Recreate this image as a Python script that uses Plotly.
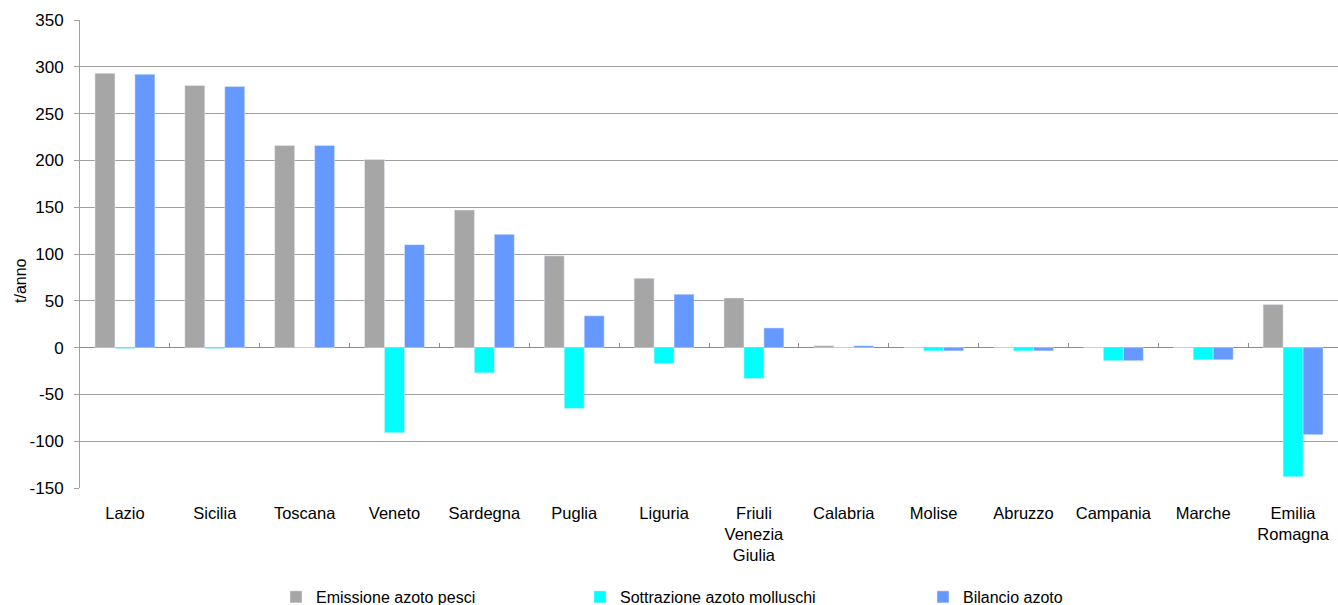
import plotly.graph_objects as go

categories = ["Lazio", "Sicilia", "Toscana", "Veneto", "Sardegna", "Puglia", "Liguria",
              "Friuli<br>Venezia<br>Giulia", "Calabria", "Molise", "Abruzzo", "Campania",
              "Marche", "Emilia<br>Romagna"]
emissione = [293, 280, 216, 201, 147, 98, 74, 53, 2, 0, 0, 0, 0, 46]
sottrazione = [-1, -1, 0, -91, -27, -65, -17, -33, 0, -3.5, -3.5, -14, -13, -138]
bilancio = [292, 279, 216, 110, 121, 34, 57, 21, 2, -3.5, -3.5, -14, -13, -93]
y_ticks = [-150, -100, -50, 0, 50, 100, 150, 200, 250, 300, 350]
y_ticktext = [str(v) for v in y_ticks]

idx = list(range(len(categories)))
fig = go.Figure()
fig.add_bar(x=idx, y=emissione, name="Emissione azoto pesci", marker_color="#A6A6A6",
            legend="legend")
fig.add_bar(x=idx, y=sottrazione, name="Sottrazione azoto molluschi", marker_color="#00FFFF",
            legend="legend2")
fig.add_bar(x=idx, y=bilancio, name="Bilancio azoto", marker_color="#6699FF",
            legend="legend3")

font = "Liberation Sans, Arial, sans-serif"
W = 1338.0


def leg(xpx):
    return dict(orientation="h", x=xpx / W, xref="container", xanchor="left",
                y=8 / 605, yref="container", yanchor="middle",
                font=dict(size=16), itemclick=False, itemdoubleclick=False,
                bgcolor="rgba(0,0,0,0)")


fig.update_layout(
    width=1338, height=605,
    margin=dict(l=80, r=0, t=20, b=117, autoexpand=False),
    plot_bgcolor="white", paper_bgcolor="white",
    barmode="group", bargap=1/3, bargroupgap=0,
    font=dict(family=font, size=16, color="black"),
    showlegend=True,
    legend=leg(276), legend2=leg(580), legend3=leg(923),
    xaxis=dict(range=[-0.5, len(categories) - 0.5], tickvals=idx, ticktext=categories,
               showgrid=False, zeroline=False, showline=False, ticks="",
               tickfont=dict(size=16.5), ticklabelstandoff=13, automargin=False),
    yaxis=dict(range=[-150, 350], tickvals=y_ticks, ticktext=y_ticktext,
               showgrid=True, gridcolor="#A0A0A0",
               gridwidth=1, zeroline=True, zerolinecolor="#8C8C8C", zerolinewidth=1,
               showline=True, linecolor="#A0A0A0", ticks="outside", ticklen=5,
               tickcolor="#A0A0A0", ticklabelstandoff=7, automargin=False,
               tickfont=dict(size=17)),
    xaxis2=dict(overlaying="x", anchor="free", position=150/500, side="bottom",
                range=[-0.5, len(categories) - 0.5],
                tickvals=[i - 0.5 for i in range(len(categories) + 1)],
                ticks="inside", ticklen=5, tickcolor="#8C8C8C", showticklabels=False,
                showgrid=False, zeroline=False, showline=False),
    annotations=[dict(text="t/anno", textangle=-90, x=(20 - 80) / 1258, xref="paper",
                      y=(488 - 280) / 468, yref="paper", showarrow=False,
                      xanchor="center", yanchor="middle", font=dict(size=16))],
)
fig.add_scatter(x=[0], y=[0], xaxis="x2", mode="markers", marker=dict(opacity=0),
                showlegend=False, hoverinfo="skip")
fig.write_html("out.html")
